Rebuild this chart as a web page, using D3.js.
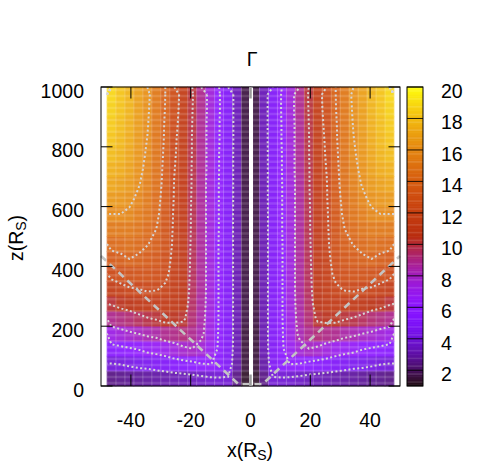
<!DOCTYPE html>
<html><head><meta charset="utf-8">
<script src="https://cdn.jsdelivr.net/npm/d3@7"></script>
<style>
body{margin:0;background:#fff}
text{font-family:"Liberation Sans",Arial,Helvetica,sans-serif;fill:#000}
</style>
</head><body>
<svg id="c" width="500" height="471"></svg>
<script>
// |x| column centres (R_S); the field is mirrored for x<0
const xCols = [1.5,4.5,7.5,10.5,13.5,16.5,19.5,22.5,25.5,28.5,31.5,34.5,37.5,40.5,43.5,46.5];
// z row centres (R_S)
const zRows = [25,75,125,175,225,275,325,375,425,475,525,575,625,675,725,775,825,875,925,975];
// Lorentz factor, one row per z (bottom -> top), one value per |x| column
const g025 = [1.3,2.5,3.9,3.9,3.8,3.6,3.4,3.3,3.2,3.1,3.0,2.9,2.8,2.7,2.6,2.5];
const g075 = [1.5,3.0,4.8,5.5,6.1,6.0,5.7,5.5,5.3,5.0,4.8,4.6,4.5,4.3,4.1,4.0];
const g125 = [1.5,3.2,4.9,5.8,6.9,7.6,8.0,7.8,7.4,7.0,6.7,6.5,6.1,5.9,5.7,5.5];
const g175 = [1.5,3.2,5.0,5.85,7.2,8.3,8.9,9.2,9.0,8.9,8.5,8.3,8.0,7.8,7.5,7.2];
const g225 = [1.6,3.2,5.0,5.9,7.3,8.5,9.3,10.2,10.4,10.4,10.1,9.9,9.6,9.3,9.1,8.9];
const g275 = [1.6,3.2,5.0,5.9,7.4,8.6,9.5,10.6,11.0,11.2,11.2,11.1,10.9,10.6,10.4,10.1];
const g325 = [1.6,3.2,5.0,5.9,7.4,8.7,9.6,10.8,11.3,11.8,12.1,12.2,12.0,11.9,11.6,11.3];
const g375 = [1.6,3.2,5.0,5.9,7.4,8.7,9.65,10.9,11.5,12.3,12.8,13.0,13.0,12.9,12.7,12.4];
const g425 = [1.6,3.2,5.0,5.9,7.4,8.7,9.7,11.0,11.6,12.6,13.3,13.6,13.8,14.0,13.7,13.5];
const g475 = [1.6,3.2,5.0,5.9,7.4,8.7,9.75,11.05,11.7,12.9,13.7,14.05,14.4,14.6,14.5,14.4];
const g525 = [1.6,3.2,5.0,5.95,7.4,8.7,9.8,11.1,11.75,13.1,14.0,14.5,14.9,15.2,15.2,15.2];
const g575 = [1.6,3.2,5.0,5.95,7.4,8.7,9.8,11.15,11.8,13.3,14.3,14.9,15.35,15.8,16.0,16.0];
const g625 = [1.6,3.25,5.0,5.95,7.4,8.7,9.85,11.2,11.9,13.4,14.5,15.2,15.75,16.25,16.5,16.6];
const g675 = [1.6,3.25,5.0,5.95,7.4,8.7,9.9,11.2,11.95,13.5,14.7,15.5,16.1,16.6,16.9,17.1];
const g725 = [1.6,3.25,5.0,6.0,7.45,8.8,9.9,11.25,12.05,13.6,14.8,15.7,16.3,16.9,17.3,17.5];
const g775 = [1.6,3.25,5.0,6.0,7.45,8.8,9.95,11.3,12.15,13.7,14.9,15.85,16.45,17.1,17.6,17.9];
const g825 = [1.6,3.3,5.0,6.05,7.45,8.8,9.95,11.3,12.25,13.8,15.0,15.97,16.6,17.3,17.8,18.2];
const g875 = [1.6,3.3,5.0,6.05,7.45,8.8,10.0,11.35,12.4,13.85,15.05,16.1,16.7,17.45,17.95,18.4];
const g925 = [1.6,3.3,5.0,6.1,7.5,8.9,10.05,11.4,12.55,13.95,15.15,16.2,16.8,17.6,18.1,18.6];
const g975 = [1.6,3.3,5.0,6.1,7.5,8.9,10.1,11.4,12.7,14.0,15.2,16.3,16.9,17.7,18.2,18.8];
const gammaRows = [g025,g075,g125,g175,g225,g275,g325,g375,g425,g475,g525,g575,g625,g675,g725,g775,g825,g875,g925,g975];

const xTicks = [-40,-20,0,20,40];
const zTicks = [0,200,400,600,800,1000];
const cbTicks = [2,4,6,8,10,12,14,16,18,20];
const contourLevels = [4,6,8,10,12,14,16];
// jet opening boundary (dashed)
const edgeX = [-50,-4,4,50];
const edgeZ = [435,6,6,435];

const svg = d3.select('#c');
const xs = d3.scaleLinear().domain([-50,50]).range([101,400]);
const zs = d3.scaleLinear().domain([0,1000]).range([386,87]);
const cbs = d3.scaleLinear().domain([1,20]).range([386,87]);
function pal(t){ t=Math.max(0,Math.min(1,t));
  return d3.rgb(255*Math.sqrt(t),255*t*t*t,255*Math.max(0,Math.sin(2*Math.PI*t))).toString(); }
const color = d3.scaleSequential(pal).domain([1,20]);
const wash = (c,k)=>d3.interpolateRgb(c,'#fff')(k);

// full mirrored column list
const fullX = xCols.slice().reverse().map(v=>-v).concat(xCols);
const nx = fullX.length, ny = zRows.length;
const values = [];
gammaRows.forEach(r=>{ const full = r.slice().reverse().concat(r); full.forEach(v=>values.push(v)); });
const dx = 3, dz = 50;

// heatmap cells
const hm = svg.append('g');
gammaRows.forEach((r,i)=>{
  const full = r.slice().reverse().concat(r);
  full.forEach((v,j)=>{
    const xc = fullX[j], zc = zRows[i];
    const x0 = xs(xc-dx/2), x1 = xs(xc+dx/2), y0 = zs(zc+dz/2), y1 = zs(zc-dz/2);
    hm.append('rect').attr('x',x0-0.3).attr('y',y0-0.3).attr('width',x1-x0+0.6).attr('height',y1-y0+0.6)
      .attr('fill',wash(color(v),0.14));
  });
});
// texture: cell boundaries and banding
const tex = svg.append('g');
for(let k=0;k<=nx;k++){
  const xv = fullX[0]-dx/2 + k*dx;
  tex.append('line').attr('x1',xs(xv)).attr('x2',xs(xv)).attr('y1',zs(1000)).attr('y2',zs(0))
    .attr('stroke','#fff').attr('stroke-opacity',0.22).attr('stroke-width',1);
}
for(let zz=10; zz<1000; zz+=20){
  tex.append('line').attr('x1',xs(-48)).attr('x2',xs(48)).attr('y1',zs(zz)).attr('y2',zs(zz))
    .attr('stroke','#fff').attr('stroke-opacity',0.14).attr('stroke-width',2.5);
}
// centre gap
svg.append('rect').attr('x',xs(-0.5)).attr('y',zs(1000)).attr('width',xs(0.85)-xs(-0.5)).attr('height',zs(0)-zs(1000)).attr('fill','#fff');

// contours
const xg = d3.scaleLinear().domain([0,nx]).range([fullX[0]-dx/2, fullX[nx-1]+dx/2]);
const zg = d3.scaleLinear().domain([0,ny]).range([zRows[0]-dz/2, zRows[ny-1]+dz/2]);
const cont = d3.contours().size([nx,ny]).thresholds(contourLevels)(values);
const line = d3.line().x(p=>xs(xg(p[0]))).y(p=>zs(zg(p[1])));
function ringLines(ring){
  const out=[]; let cur=[];
  const onB=(p,q)=>(p[0]===0&&q[0]===0)||(p[0]===nx&&q[0]===nx)||(p[1]===0&&q[1]===0)||(p[1]===ny&&q[1]===ny);
  for(let i=0;i<ring.length-1;i++){
    const p=ring[i], q=ring[i+1];
    if(onB(p,q)){ if(cur.length>1) out.push(cur); cur=[]; }
    else { if(!cur.length) cur.push(p); cur.push(q); }
  }
  if(cur.length>1) out.push(cur);
  return out;
}
const cg = svg.append('g');
cont.forEach(mp=>{
  mp.coordinates.forEach(poly=>poly.forEach(ring=>{
    ringLines(ring).forEach(l=>{
      cg.append('path').attr('d',line(l)).attr('fill','none').attr('stroke','#d6d6d6')
        .attr('stroke-width',2).attr('stroke-dasharray','2,2.4');
    });
  }));
});

// dashed jet boundary
const edge = edgeX.map((v,i)=>[v,edgeZ[i]]);
svg.append('path').attr('d',d3.line().x(p=>xs(p[0])).y(p=>zs(p[1]))(edge))
  .attr('fill','none').attr('stroke','#c4c4c4').attr('stroke-width',2.6).attr('stroke-dasharray','7,5');

// frame
svg.append('rect').attr('x',xs(-50)).attr('y',zs(1000)).attr('width',xs(50)-xs(-50)).attr('height',zs(0)-zs(1000))
  .attr('fill','none').attr('stroke','#000').attr('stroke-width',1);
const tl = 11.5;
xTicks.forEach(t=>{
  const c = t===0 ? '#9a9a9a' : '#000', w = t===0 ? 2.5 : 1;
  svg.append('line').attr('x1',xs(t)).attr('x2',xs(t)).attr('y1',zs(0)).attr('y2',zs(0)-tl).attr('stroke',c).attr('stroke-width',w);
  svg.append('line').attr('x1',xs(t)).attr('x2',xs(t)).attr('y1',zs(1000)).attr('y2',zs(1000)+tl).attr('stroke',c).attr('stroke-width',w);
  svg.append('text').attr('x',xs(t)).attr('y',427).attr('text-anchor','middle').attr('font-size',19.5).text(t);
});
zTicks.forEach(t=>{
  svg.append('line').attr('x1',xs(-50)).attr('x2',xs(-50)+tl).attr('y1',zs(t)).attr('y2',zs(t)).attr('stroke','#000');
  svg.append('line').attr('x1',xs(50)).attr('x2',xs(50)-tl).attr('y1',zs(t)).attr('y2',zs(t)).attr('stroke','#000');
  svg.append('text').attr('x',84).attr('y',zs(t)+10.5).attr('text-anchor','end').attr('font-size',19.5).text(t);
});

// colorbar
const cbx0 = 407, cbx1 = 423;
const cbg = svg.append('g');
const steps = d3.range(1,20,0.1);
steps.forEach(v=>{
  const ya = cbs(Math.min(20,v+0.1)), yb = cbs(v);
  cbg.append('rect').attr('x',cbx0).attr('y',ya-0.3).attr('width',cbx1-cbx0).attr('height',yb-ya+0.6).attr('fill',wash(color(v+0.05),0.06));
});
for(let v=1.25; v<20; v+=0.5){
  cbg.append('line').attr('x1',cbx0).attr('x2',cbx1).attr('y1',cbs(v)).attr('y2',cbs(v)).attr('stroke','#fff').attr('stroke-opacity',0.12).attr('stroke-width',1.5);
}
svg.append('rect').attr('x',cbx0).attr('y',cbs(20)).attr('width',cbx1-cbx0).attr('height',cbs(1)-cbs(20)).attr('fill','none').attr('stroke','#000');
cbTicks.forEach(t=>{
  svg.append('line').attr('x1',cbx0).attr('x2',cbx1).attr('y1',cbs(t)).attr('y2',cbs(t)).attr('stroke','#000').attr('stroke-opacity',0.85);
  svg.append('text').attr('x',441).attr('y',cbs(t)+11).attr('font-size',19.5).text(t);
});

// titles
svg.append('text').attr('x',252).attr('y',66).attr('text-anchor','middle').attr('font-size',19.5).text('Γ');
const xl = svg.append('text').attr('x',250).attr('y',457).attr('text-anchor','middle').attr('font-size',19.5);
xl.append('tspan').text('x(R');
xl.append('tspan').attr('font-size',14).attr('dy',3).text('S');
xl.append('tspan').attr('dy',-3).text(')');
const yl = svg.append('text').attr('transform','translate(23,238) rotate(-90)').attr('text-anchor','middle').attr('font-size',19.5);
yl.append('tspan').text('z(R');
yl.append('tspan').attr('font-size',14).attr('dy',3).text('S');
yl.append('tspan').attr('dy',-3).text(')');
</script>
</body></html>
